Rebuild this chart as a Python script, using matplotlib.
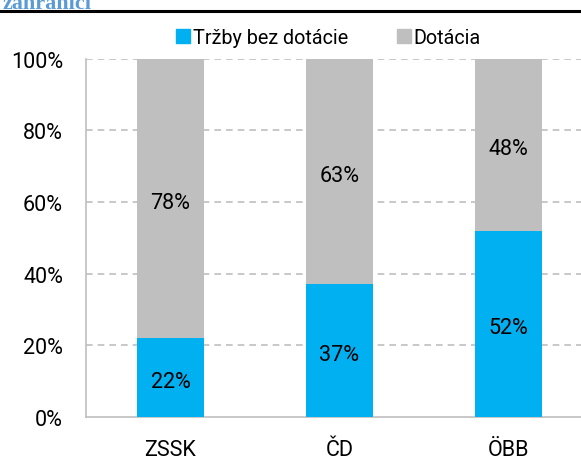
import matplotlib
matplotlib.use("Agg")
import matplotlib.pyplot as plt
import matplotlib.transforms as mtransforms
import numpy as np
from matplotlib.lines import Line2D

categories = ["ZSSK", "ČD", "ÖBB"]
trzby = [22, 37, 52]
dotacia = [78, 63, 48]
series_names = ["Tržby bez dotácie", "Dotácia"]
yticks = [0, 20, 40, 60, 80, 100]
ytick_labels = ["0%", "20%", "40%", "60%", "80%", "100%"]
title_text = "zahraničí"

BLUE = "#00B0F0"
GRAY = "#BFBFBF"
FONT = ["Roboto", "DejaVu Sans"]
plt.rcParams["font.family"] = FONT
FS = 15.5

fig = plt.figure(figsize=(5.81, 4.64), dpi=100)
W, H = 581, 464
x0, x1 = 86, 593
ytop, ybot = 59.5, 418
ax = fig.add_axes([x0 / W, (H - ybot) / H, (x1 - x0) / W, (ybot - ytop) / H])

x = np.arange(len(categories))
bw = 0.40
ax.bar(x, trzby, bw, color=BLUE, zorder=3)
ax.bar(x, dotacia, bw, bottom=trzby, color=GRAY, zorder=3)

lab_tr = ax.transData + mtransforms.ScaledTranslation(0, -4 / 100, fig.dpi_scale_trans)
for i in range(len(categories)):
    ax.text(x[i], trzby[i] / 2, f"{trzby[i]}%", ha="center", va="center",
            fontsize=FS, zorder=4, transform=lab_tr)
    ax.text(x[i], trzby[i] + dotacia[i] / 2, f"{dotacia[i]}%", ha="center", va="center",
            fontsize=FS, zorder=4, transform=lab_tr)

ax.set_xlim(-0.5, 2.5)
ax.set_ylim(0, 100)
ax.set_yticks(yticks)
ax.set_yticklabels(ytick_labels, fontsize=FS)
ax.set_xticks(x)
ax.set_xticklabels(categories, fontsize=FS)
ax.tick_params(length=0)
ax.tick_params(axis="y", pad=16.5)
ax.tick_params(axis="x", pad=16)
for yv in yticks[1:]:
    ax.axhline(yv, color=GRAY, lw=1.2, ls=(0, (4, 3)), zorder=1)
for s in ["top", "right"]:
    ax.spines[s].set_visible(False)
for s in ["left", "bottom"]:
    ax.spines[s].set_color(GRAY)
    ax.spines[s].set_linewidth(1.2)

handles = [Line2D([], [], marker="s", ls="", color=BLUE, markersize=9.5),
           Line2D([], [], marker="s", ls="", color=GRAY, markersize=9.5)]
fig.legend(handles, series_names, loc="center", bbox_to_anchor=(328 / W, 1 - 38 / H),
           ncol=2, frameon=False, fontsize=14.2, handletextpad=0.1, columnspacing=2.4,
           handlelength=0.8, borderpad=0)

# header line and cut-off title
fig.add_artist(Line2D([0, 1], [1 - 12 / H, 1 - 12 / H], color="black", lw=2.2))
fig.text(3 / W, 1 - 4 / H, title_text, ha="left", va="center", fontsize=16,
         color="#5B9BD5", fontweight="bold", family=["Liberation Serif", "DejaVu Serif"])

fig.savefig("out.png", dpi=100)
